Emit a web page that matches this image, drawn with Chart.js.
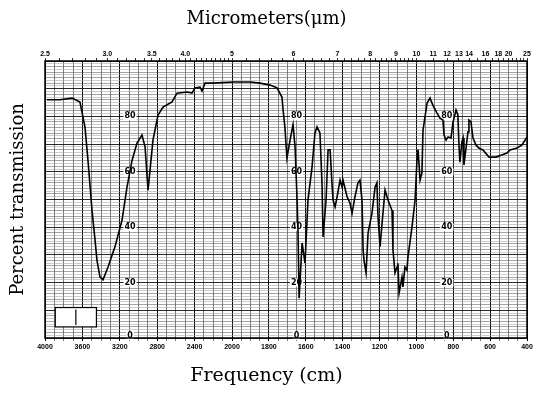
<!DOCTYPE html>
<html>
<head>
<meta charset="utf-8">
<script src="https://cdn.jsdelivr.net/npm/chart.js@4.4.0/dist/chart.umd.min.js"></script>
<style>
  html, body { margin: 0; padding: 0; background: #fff; }
  canvas { display: block; }
</style>
</head>
<body>
<canvas id="irChart" width="533" height="393"></canvas>
<script>
// spectrum (wavenumber in cm-1, percent transmission)
const wavenumbers = [3980, 3840, 3710, 3626, 3572, 3540, 3497, 3465, 3444, 3412,
    3380, 3326, 3251, 3176, 3123, 3070, 3016, 2963, 2930, 2898,
    2845, 2791, 2738, 2642, 2588, 2481, 2428, 2396, 2342, 2321,
    2289, 2203, 1995, 1902, 1848, 1794, 1756, 1729, 1723, 1713,
    1702, 1685, 1669, 1658, 1647, 1642, 1636, 1620, 1604, 1588,
    1566, 1550, 1539, 1523, 1512, 1506, 1490, 1479, 1468, 1458,
    1452, 1441, 1430, 1414, 1403, 1398, 1376, 1360, 1349, 1333,
    1317, 1306, 1295, 1289, 1284, 1273, 1262, 1241, 1224, 1214,
    1208, 1197, 1186, 1170, 1154, 1132, 1127, 1116, 1105, 1100,
    1094, 1078, 1073, 1062, 1051, 1046, 1024, 1007, 997, 991,
    980, 970, 964, 942, 926, 910, 888, 872, 856, 850,
    839, 828, 812, 801, 785, 775, 769, 764, 753, 747,
    742, 720, 715, 704, 693, 677, 661, 639, 606, 568,
    541, 509, 492, 454, 427, 400];
const transmission = [86, 86, 86.6, 85.2, 76, 64, 46, 35.4, 28, 22,
    21, 25.6, 33, 42.6, 54.5, 64, 70.4, 73.3, 69, 53.4,
    71.5, 80.5, 83.4, 85.2, 88.4, 88.8, 88.4, 90.3, 90.6, 89.2,
    92, 92, 92.4, 92.4, 92, 91.3, 90.3, 87, 82.3, 76,
    65, 71.5, 77, 69, 49.8, 38, 14.4, 34.3, 27, 49.8,
    61.7, 74, 76.2, 74, 56, 36.5, 49.8, 67.9, 67.9, 56,
    49.8, 47.3, 51, 57, 54.5, 57, 51, 48.7, 45, 51,
    56, 57, 49.8, 31.8, 28, 23.5, 38, 45, 54.5, 56,
    43.7, 33, 41.5, 53.4, 49.8, 46, 31.8, 23.5, 25.6, 27,
    16.2, 22, 18.4, 25.6, 24.5, 29, 40, 49.8, 64, 68,
    57, 59.6, 75, 84.8, 86.6, 84, 81.2, 79.4, 78.7, 73.3,
    71.5, 72.6, 72.2, 78, 82.3, 80.5, 69.7, 63.5, 70.8, 72.2,
    62.5, 74.4, 78.7, 78, 72.2, 69.7, 68.6, 67.9, 65.3, 65.3,
    66, 66.8, 67.9, 68.6, 69.7, 72.6];

// axis labels
const freqTicks = [4000, 3600, 3200, 2800, 2400, 2000, 1800, 1600, 1400, 1200, 1000, 800, 600, 400];
const micronTicks = [2.5, 3.0, 3.5, 4.0, 5, 6, 7, 8, 9, 10, 11, 12, 13, 14, 16, 18, 20, 25];
const micronLabels = ['2.5', '3.0', '3.5', '4.0', '5', '6', '7', '8', '9', '10', '11', '12', '13', '14', '16', '18', '20', '25'];
const percentLabels = [80, 60, 40, 20, 0];
// the chart paper prints the percent scale in three columns (at these wavenumbers)
const percentColumns = [3090, 1650, 835];

const topTitle = 'Micrometers(\u03bcm)';
const bottomTitle = 'Frequency (cm)';
const sideTitle = 'Percent transmission';

// paper scale changes at 2000 cm-1
const SPLIT = 0.388;
function waveToFrac(v) {
    if (v >= 2000) return (4000 - v) / 2000 * SPLIT;
    return SPLIT + (2000 - v) / 1600 * (1 - SPLIT);
}
function fracToWave(f) {
    if (f <= SPLIT) return 4000 - f / SPLIT * 2000;
    return 2000 - (f - SPLIT) / (1 - SPLIT) * 1600;
}

class IRScale extends Chart.LinearScale {
    static id = 'ir';
    static defaults = Chart.LinearScale.defaults;
    buildTicks() {
        return this.options.tickValues.map(v => ({ value: v }));
    }
    getPixelForValue(value) {
        return this.getPixelForDecimal(waveToFrac(value));
    }
    getValueForPixel(pixel) {
        return fracToWave(this.getDecimalForPixel(pixel));
    }
}
Chart.register(IRScale);

// grid: every 100 above 2000, every 50 below
const freqGrid = [];
for (let v = 4000; v > 2000; v -= 100) freqGrid.push(v);
for (let v = 2000; v >= 400; v -= 50) freqGrid.push(v);

// micrometer tick marks along the top
const micronMarks = [];
for (let m = 25; m <= 50; m++) micronMarks.push(m / 10);
for (let m = 26; m <= 50; m++) micronMarks.push(m / 5);
for (let m = 11; m <= 25; m++) micronMarks.push(m);
const micronGrid = micronMarks.map(m => 10000 / m);

function micronLabel(value) {
    const i = micronTicks.findIndex(m => Math.abs(10000 / m - value) < 0.01);
    return i >= 0 ? micronLabels[i] : '';
}
const isFreqTick = c => !!c.tick && freqTicks.includes(c.tick.value);
const isTen = c => !!c.tick && c.tick.value % 10 === 0;
const isTwo = c => !!c.tick && c.tick.value % 2 === 0;

const serif = '"DejaVu Serif", "Liberation Serif", serif';

const paperPlugin = {
    id: 'paper',
    beforeDraw(chart) {
        const ctx = chart.ctx;
        ctx.save();
        ctx.fillStyle = '#fff';
        ctx.fillRect(0, 0, chart.width, chart.height);
        ctx.restore();
    },
    beforeDatasetsDraw(chart) {
        const { ctx, scales } = chart;
        ctx.save();
        // stamp box in the lower left of the paper
        const bx = scales.x.getPixelForValue(3890), bx2 = scales.x.getPixelForValue(3450);
        const by = scales.y.getPixelForValue(11), by2 = scales.y.getPixelForValue(4);
        ctx.fillStyle = '#fff';
        ctx.fillRect(bx, by, bx2 - bx, by2 - by);
        ctx.strokeStyle = '#000';
        ctx.lineWidth = 1.2;
        ctx.strokeRect(bx, by, bx2 - bx, by2 - by);
        ctx.beginPath();
        ctx.moveTo((bx + bx2) / 2, by + 2);
        ctx.lineTo((bx + bx2) / 2, by2 - 2);
        ctx.stroke();

        ctx.font = 'bold 8px "DejaVu Sans", sans-serif';
        ctx.textAlign = 'center';
        ctx.textBaseline = 'middle';
        percentColumns.forEach(w => {
            const px = scales.x.getPixelForValue(w);
            percentLabels.forEach(p => {
                const py = scales.y.getPixelForValue(p) - (p === 0 ? 2 : 0);
                const tw = ctx.measureText(String(p)).width;
                ctx.fillStyle = '#fff';
                ctx.fillRect(px - tw / 2 - 1, py - 4, tw + 2, 8);
                ctx.fillStyle = '#000';
                ctx.fillText(String(p), px, py);
            });
        });
        ctx.restore();
    },
    afterDatasetsDraw(chart) {
        const { ctx, chartArea } = chart;
        ctx.save();
        ctx.strokeStyle = '#000';
        ctx.lineWidth = 1.5;
        ctx.strokeRect(chartArea.left, chartArea.top, chartArea.right - chartArea.left, chartArea.bottom - chartArea.top);
        // page titles sit centred on the page, not on the plot frame
        ctx.fillStyle = '#000';
        ctx.textAlign = 'center';
        ctx.textBaseline = 'middle';
        ctx.font = '18px ' + serif;
        ctx.fillText(topTitle, chart.width / 2, 19);
        ctx.font = '19px ' + serif;
        ctx.fillText(bottomTitle, chart.width / 2, 376);
        ctx.restore();
    }
};

const ctx = document.getElementById('irChart').getContext('2d');
new Chart(ctx, {
    type: 'line',
    data: {
        datasets: [{
            label: 'Percent transmission',
            data: wavenumbers.map((w, i) => ({ x: w, y: transmission[i] })),
            borderColor: '#000',
            borderWidth: 1.6,
            pointRadius: 0,
            tension: 0,
            fill: false,
            xAxisID: 'x',
            yAxisID: 'y'
        }]
    },
    options: {
        responsive: false,
        animation: false,
        layout: { padding: { top: 0, right: 6, bottom: 0, left: 0 } },
        plugins: {
            legend: { display: false },
            tooltip: { enabled: false }
        },
        scales: {
            x: {
                type: 'ir',
                position: 'bottom',
                min: 400,
                max: 4000,
                tickValues: freqGrid,
                afterFit: s => { s.height = 55; s.paddingLeft = 0; s.paddingRight = 0; },
                grid: {
                    color: c => isFreqTick(c) ? '#000' : '#444',
                    lineWidth: c => isFreqTick(c) ? 1 : 0.7,
                    tickLength: 3
                },
                border: { display: false },
                ticks: {
                    autoSkip: false,
                    maxRotation: 0,
                    minRotation: 0,
                    padding: 2,
                    color: '#000',
                    font: { family: '"Liberation Sans", Arial, sans-serif', size: 7, weight: 'bold' },
                    callback: v => freqTicks.includes(v) ? String(v) : ''
                },
                title: { display: false }
            },
            x2: {
                type: 'ir',
                position: 'top',
                min: 400,
                max: 4000,
                tickValues: micronGrid,
                afterFit: s => { s.height = 61; s.paddingLeft = 0; s.paddingRight = 0; },
                grid: {
                    drawOnChartArea: false,
                    color: '#000',
                    lineWidth: 0.8,
                    tickLength: 3
                },
                border: { display: false },
                ticks: {
                    autoSkip: false,
                    maxRotation: 0,
                    minRotation: 0,
                    padding: 0,
                    color: '#000',
                    font: { family: '"Liberation Sans", Arial, sans-serif', size: 7, weight: 'bold' },
                    callback: v => micronLabel(v)
                },
                title: { display: false }
            },
            y: {
                type: 'linear',
                position: 'left',
                min: 0,
                max: 100,
                afterFit: s => { s.width = 45; s.paddingTop = 0; s.paddingBottom = 0; },
                grid: {
                    color: c => isTen(c) ? '#111' : (isTwo(c) ? '#666' : '#aaa'),
                    lineWidth: c => isTen(c) ? 0.9 : 0.6,
                    drawTicks: false
                },
                border: { display: false },
                ticks: { display: false, stepSize: 1 },
                title: {
                    display: true,
                    text: sideTitle,
                    color: '#000',
                    font: { family: serif, size: 18 },
                    padding: { top: 8, bottom: 0 }
                }
            }
        }
    },
    plugins: [paperPlugin]
});
</script>
</body>
</html>
